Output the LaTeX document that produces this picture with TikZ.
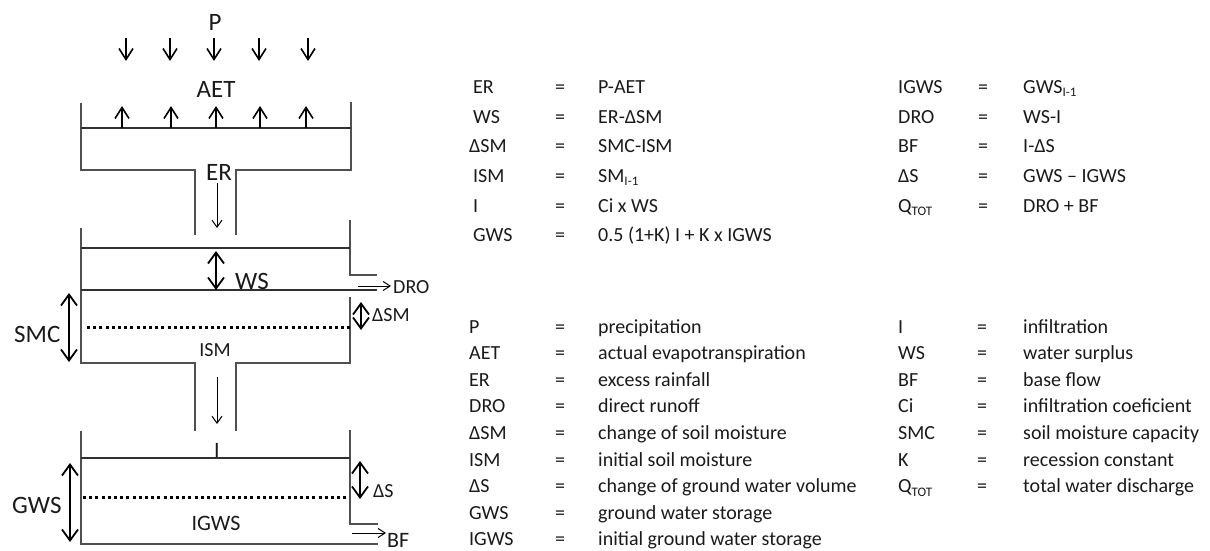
\documentclass[tikz,border=0pt]{standalone}
\usepackage{fontspec}
\setmainfont{Carlito}
\usetikzlibrary{arrows.meta}
\definecolor{wallc}{HTML}{505050}
\definecolor{linec}{HTML}{303030}
\definecolor{txt}{HTML}{1A1A1A}
\newcommand{\sbs}[1]{\raisebox{-3.5pt}{\fontsize{13}{14}\selectfont #1}}
\begin{document}
\begin{tikzpicture}[x=1pt,y=-1pt,
  wall/.style={draw=wallc, line width=1.4pt},
  lvl/.style={draw=linec, line width=1.3pt},
  dotln/.style={draw=black, line width=3pt, dash pattern=on 3pt off 3.2pt},
  rainarr/.style={draw=black, line width=1.6pt, -{Straight Barb[length=11pt,width=14pt,line width=1.6pt]}},
  dblarr/.style={draw=black, line width=1.8pt, {Straight Barb[length=11pt,width=16pt,line width=1.8pt]}-{Straight Barb[length=11pt,width=16pt,line width=1.8pt]}},
  flowarr/.style={draw=black, line width=1pt, -{Straight Barb[length=7pt,width=10pt,line width=1pt]}},
  outarr/.style={draw=black, line width=1pt, -{Straight Barb[length=7pt,width=9pt,line width=1pt]}},
  big/.style={text=txt, inner sep=0pt, font=\fontsize{25}{30}\selectfont},
  mid/.style={text=txt, inner sep=0pt, font=\fontsize{22}{26}\selectfont},
  sml/.style={text=txt, inner sep=0pt, font=\fontsize{20}{24}\selectfont},
  eq/.style={text=txt, inner sep=0pt, anchor=base west, font=\fontsize{20}{24}\selectfont},
  eqs/.style={text=txt, inner sep=0pt, anchor=base, font=\fontsize{20}{24}\selectfont}
]
\useasboundingbox (0,0) rectangle (1210,551);

% ---------- top tank ----------
\draw[wall] (81,103) -- (81,170) -- (195,170) -- (195,235);
\draw[wall] (351,102) -- (351,170) -- (236,170) -- (236,235);
\draw[lvl] (81,128) -- (351,128);
% ---------- middle tank ----------
\draw[wall] (81,228) -- (81,363) -- (195,363) -- (195,431);
\draw[wall] (350,297) -- (350,363) -- (236,363) -- (236,431);
\draw[wall] (350,220) -- (350,275) -- (377,275);
\draw[lvl] (81,248) -- (350,248);
\draw[lvl] (81,290) -- (377,290);
\draw[dotln] (87,327) -- (350,327);
% ---------- bottom tank ----------
\draw[wall] (81,431) -- (81,544) -- (378,544);
\draw[wall] (350,430) -- (350,524) -- (378,524);
\draw[lvl] (81,458) -- (350,458);
\draw[dotln] (83,497) -- (349,497);

% ---------- precipitation / evaporation arrows ----------
\foreach \x in {126,170,214,259,308} \draw[rainarr] (\x,38) -- (\x,61);
\foreach \x in {122,171,216,260,306} \draw[rainarr] (\x,128) -- (\x,106);

% ---------- flow arrows ----------
\draw[flowarr] (217,183) -- (217,228);
\draw[flowarr] (217,377) -- (217,424);
\draw[outarr] (358,286) -- (391,286);
\draw[outarr] (352,533) -- (386,533);

% ---------- double arrows ----------
\draw[dblarr] (216,251) -- (216,290);
\draw[dblarr] (361,302) -- (361,330);
\draw[dblarr] (69,293) -- (69,362);
\draw[dblarr] (360,461) -- (360,499);
\draw[dblarr] (70,463) -- (70,542);

% ---------- diagram labels ----------
\node[big, anchor=base] (lP) at (215,31) {P};
\node[big, anchor=base] (lAET) at (216,97) {AET};
\node[big, anchor=base] (lER) at (219,180) {ER};
\node[big, anchor=base west] (lWS) at (235,289) {WS};
\node[sml, anchor=base west] (lDRO) at (393,293) {DRO};
\node[sml, anchor=base west] (lDSM) at (372,321) {ΔSM};
\node[big, anchor=base west] (lSMC) at (14,342) {SMC};
\node[sml, anchor=base] (lISM) at (215,356) {ISM};
\node[mid, anchor=base] (lI) at (217,457) {I};
\node[big, anchor=base west] (lGWS) at (12,513) {GWS};
\node[sml, anchor=base west] (lDS) at (373,497) {ΔS};
\node[mid, anchor=base] (lIGWS) at (216,530) {IGWS};
\node[mid, anchor=base west] (lBF) at (387,547) {BF};

% ---------- equations ----------
\node[eq] (e1a) at (473,93.3) {ER};
\node[eq] (e2a) at (473,123) {WS};
\node[eq] (e3a) at (469,152.7) {ΔSM};
\node[eq] (e4a) at (473,182.4) {ISM};
\node[eq] (e5a) at (473,212) {I};
\node[eq] (e6a) at (473,241.7) {GWS};
\foreach \y in {93.3,123,152.7,182.4,212,241.7} \node[eqs] at (560,\y) {=};
\node[eq] (e1b) at (598,93.3) {P-AET};
\node[eq] (e2b) at (598,123) {ER-ΔSM};
\node[eq] (e3b) at (598,152.7) {SMC-ISM};
\node[eq] (e4b) at (598,182.4) {SM\sbs{I-1}};
\node[eq] (e5b) at (598,212) {Ci x WS};
\node[eq] (e6b) at (598,241.7) {0.5 (1+K) I + K x IGWS};

\node[eq] (f1a) at (898,93.3) {IGWS};
\node[eq] (f2a) at (898,123) {DRO};
\node[eq] (f3a) at (898,152.7) {BF};
\node[eq] (f4a) at (898,182.4) {ΔS};
\node[eq] (f5a) at (898,212) {Q\sbs{TOT}};
\foreach \y in {93.3,123,152.7,182.4,212} \node[eqs] at (983,\y) {=};
\node[eq] (f1b) at (1023,93.3) {GWS\sbs{I-1}};
\node[eq] (f2b) at (1023,123) {WS-I};
\node[eq] (f3b) at (1023,152.7) {I-ΔS};
\node[eq] (f4b) at (1023,182.4) {GWS – IGWS};
\node[eq] (f5b) at (1023,212) {DRO + BF};

% ---------- legend left ----------
\foreach \n/\a/\d [count=\i from 0] in {P/P/precipitation, AET/AET/actual evapotranspiration, ER/ER/excess rainfall, DRO/DRO/direct runoff, DSM/ΔSM/change of soil moisture, ISM/ISM/initial soil moisture, DS/ΔS/change of ground water volume, GWS/GWS/ground water storage, IGWS/IGWS/initial ground water storage}{
  \pgfmathsetmacro{\yy}{333+26.6*\i}
  \node[eq] (ga\n) at (469,\yy) {\a};
  \node[eqs] (gq\n) at (560,\yy) {=};
  \node[eq] (gd\n) at (598,\yy) {\d};
}
% ---------- legend right ----------
\foreach \n/\a/\d [count=\i from 0] in {I/I/infiltration, WS/WS/water surplus, BF/BF/base flow, Ci/Ci/infiltration coeficient, SMC/SMC/soil moisture capacity, K/K/recession constant}{
  \pgfmathsetmacro{\yy}{333+26.6*\i}
  \node[eq] (ha\n) at (898,\yy) {\a};
  \node[eqs] (hq\n) at (982,\yy) {=};
  \node[eq] (hd\n) at (1023,\yy) {\d};
}
\node[eq] (haQ) at (898,492.6) {Q\sbs{TOT}};
\node[eqs] (hqQ) at (982,492.6) {=};
\node[eq] (hdQ) at (1023,492.6) {total water discharge};
\end{tikzpicture}
\end{document}
